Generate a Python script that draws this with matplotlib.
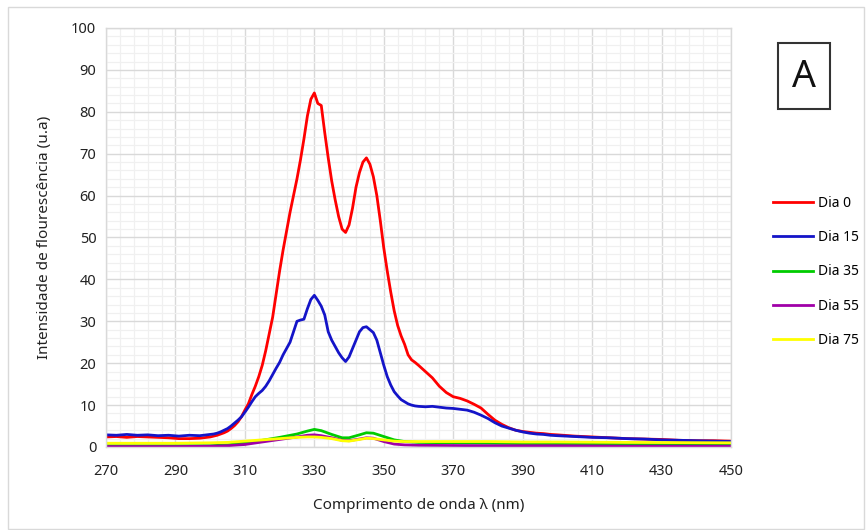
import numpy as np
import matplotlib.pyplot as plt
from matplotlib.patches import Rectangle

plt.rcParams["font.family"] = ["Noto Sans", "DejaVu Sans"]

# wavelength grid for the two strong series (nm)
wl = ([270, 273, 276, 279, 282, 285, 288, 291, 294, 297, 300]
      + list(range(301, 361))
      + list(range(362, 401, 2))
      + list(range(405, 451, 5)))

dia0 = [2.4, 2.5, 2.3, 2.5, 2.4, 2.3, 2.2, 2.0, 2.0, 2.1, 2.4,
        2.6, 2.8, 3.1, 3.4, 3.8, 4.4, 5.1, 6.0, 7.2, 8.8,
        10.3, 12.5, 14.5, 16.8, 19.5, 23.0, 27.0, 31.0, 36.5, 42.0,
        47.0, 51.5, 56.0, 60.0, 64.0, 68.5, 73.5, 79.0, 83.0, 84.5,
        82.0, 81.5, 75.0, 69.0, 63.5, 59.0, 55.0, 52.0, 51.2, 53.0,
        57.0, 62.0, 65.5, 68.0, 69.0, 67.5, 64.5, 60.0, 54.0, 47.5,
        42.0, 37.0, 32.5, 29.0, 26.5, 24.5, 22.0, 20.8, 20.2, 19.5,
        18.0, 16.5, 14.5, 13.0, 12.0, 11.6, 11.0, 10.2, 9.3, 7.8,
        6.4, 5.4, 4.6, 4.0, 3.7, 3.5, 3.3, 3.2, 3.0, 2.9,
        2.6, 2.4, 2.2, 2.0, 1.9, 1.8, 1.6, 1.5, 1.5, 1.4]

dia15 = [2.9, 2.8, 3.0, 2.8, 2.9, 2.7, 2.8, 2.6, 2.8, 2.7, 3.0,
         3.1, 3.3, 3.6, 4.0, 4.4, 5.0, 5.7, 6.4, 7.2, 8.3,
         9.5, 10.8, 12.0, 12.8, 13.5, 14.5, 15.8, 17.3, 18.8, 20.2,
         22.0, 23.5, 25.0, 27.5, 30.0, 30.3, 30.5, 33.0, 35.2, 36.2,
         35.0, 33.6, 31.5, 27.5, 25.5, 24.0, 22.5, 21.3, 20.4, 21.5,
         23.5, 25.5, 27.5, 28.5, 28.7, 28.0, 27.3, 25.5, 22.5, 19.5,
         16.8, 14.8, 13.2, 12.2, 11.3, 10.8, 10.3, 10.0, 9.8, 9.7,
         9.6, 9.7, 9.5, 9.3, 9.2, 9.0, 8.8, 8.3, 7.6, 6.8,
         5.8, 5.0, 4.5, 4.0, 3.6, 3.3, 3.1, 3.0, 2.8, 2.7,
         2.5, 2.3, 2.2, 2.0, 1.9, 1.7, 1.6, 1.5, 1.4, 1.3]

# coarser grid for the weak series
wl_low = [270, 280, 290, 300, 305, 310, 315, 320, 325, 328, 330, 332, 335, 338,
          340, 343, 345, 347, 350, 353, 356, 360, 370, 380, 390, 400, 420, 450]
dia35 = [0.3, 0.3, 0.3, 0.3, 0.5, 1.0, 1.6, 2.3, 3.1, 3.8, 4.2, 3.9, 3.0, 2.2,
         2.2, 2.9, 3.4, 3.3, 2.5, 1.7, 1.3, 1.1, 1.0, 0.9, 0.8, 0.7, 0.6, 0.5]
dia55 = [0.1, 0.1, 0.1, 0.2, 0.3, 0.6, 1.2, 1.8, 2.4, 2.8, 2.9, 2.7, 2.2, 1.6,
         1.5, 1.9, 2.2, 2.1, 1.3, 0.7, 0.5, 0.4, 0.35, 0.3, 0.3, 0.3, 0.2, 0.2]
dia75 = [0.9, 0.9, 0.9, 1.0, 1.1, 1.4, 1.7, 2.0, 2.3, 2.4, 2.4, 2.3, 2.0, 1.5,
         1.4, 1.8, 2.1, 2.0, 1.7, 1.4, 1.3, 1.3, 1.3, 1.3, 1.2, 1.2, 1.1, 1.0]

labels = ["Dia 0", "Dia 15", "Dia 35", "Dia 55", "Dia 75"]
colors = ["#ff0000", "#1414c8", "#00cc00", "#a000a8", "#ffff00"]

fig = plt.figure(figsize=(8.67, 5.30), dpi=100)
ax = fig.add_axes([106 / 867, 1 - 447 / 530, 625 / 867, 419 / 530])

series = [(wl, dia0), (wl, dia15), (wl_low, dia35), (wl_low, dia55), (wl_low, dia75)]
for (x, y), lab, c in zip(series, labels, colors):
    ax.plot(x, y, color=c, lw=2.0, label=lab, solid_joinstyle="round")

ax.set_xlim(270, 450)
ax.set_ylim(0, 100)
ax.set_xticks(np.arange(270, 451, 20))
ax.set_xticks(np.arange(270, 451, 4), minor=True)
ax.set_yticks(np.arange(0, 101, 10))
ax.set_yticks(np.arange(0, 101, 2), minor=True)
ax.grid(which="major", color="#d9d9d9", lw=1.0)
ax.grid(which="minor", color="#f0f0f0", lw=0.9)
ax.set_axisbelow(True)
ax.tick_params(which="both", length=0, labelsize=10.5, colors="#222222")
ax.tick_params(axis="x", pad=12)
ax.tick_params(axis="y", pad=7)
for s in ax.spines.values():
    s.set_color("#d9d9d9")
    s.set_linewidth(1.0)

ax.set_xlabel("Comprimento de onda λ (nm)", fontsize=11, color="#222222", labelpad=14)
ax.set_ylabel("Intensidade de flourescência (u.a)", fontsize=11, color="#222222", labelpad=14)

fig.legend(loc="center left", bbox_to_anchor=(773 / 867, 1 - 272 / 530),
           frameon=False, fontsize=10, handlelength=2.9, handletextpad=0.35,
           labelspacing=1.38, borderpad=0, borderaxespad=0)

# panel letter box
fig.patches.append(Rectangle((778 / 867, 1 - 109 / 530), 52 / 867, 66 / 530,
                             transform=fig.transFigure, fill=False,
                             edgecolor="#333333", lw=1.5))
fig.text(804 / 867, 1 - 77 / 530, "A", fontsize=27, ha="center", va="center",
         color="#111111")

# outer chart frame
fig.patches.append(Rectangle((8 / 867, 0.002), 0.997 - 8 / 867, 1 - 7 / 530 - 0.002,
                             transform=fig.transFigure, fill=False,
                             edgecolor="#d9d9d9", lw=1.0))

fig.savefig("out.png", dpi=100)
